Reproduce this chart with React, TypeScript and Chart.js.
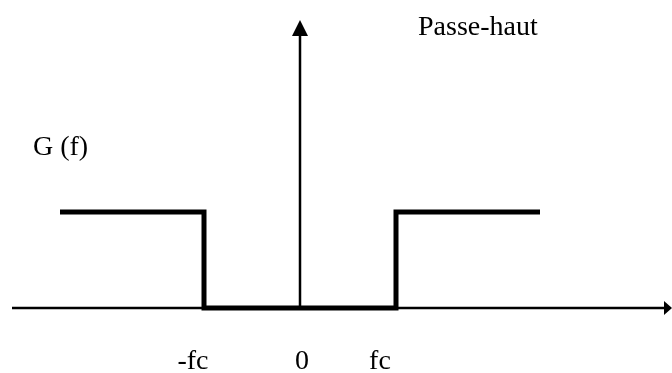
import React, { useEffect, useRef } from "react";
import { Chart, registerables } from "chart.js";

Chart.register(...registerables);

// Ideal high-pass response: gain 1 outside [-fc, fc], 0 inside
const freq = [-240, -96, -96, 96, 96, 240];
const gain = [1, 1, 0, 0, 1, 1];

// Frequency-axis labels and where they sit along the axis
const tickLabels = ["-fc", "0", "fc"];
const tickAnchors = [-107, 2, 80];

const titleText = "Passe-haut";
const yAxisTitle = "G (f)";

const FONT = "28px 'Liberation Serif', 'Times New Roman', serif";

const axesPlugin = {
  id: "filterAxes",
  beforeDatasetsDraw(chart: any) {
    const { ctx, scales } = chart;
    const xs = scales.x;
    const ys = scales.y;
    const y0 = ys.getPixelForValue(0);
    const x0 = xs.getPixelForValue(0);
    const xStart = xs.getPixelForValue(-288);
    const xEnd = xs.getPixelForValue(372);
    const yTop = ys.getPixelForValue(3);

    ctx.save();
    ctx.strokeStyle = "#000";
    ctx.fillStyle = "#000";
    ctx.lineWidth = 2.5;

    // frequency axis
    ctx.beginPath();
    ctx.moveTo(xStart, y0);
    ctx.lineTo(xEnd - 6, y0);
    ctx.stroke();
    ctx.beginPath();
    ctx.moveTo(xEnd, y0);
    ctx.lineTo(xEnd - 8, y0 - 7);
    ctx.lineTo(xEnd - 8, y0 + 7);
    ctx.closePath();
    ctx.fill();

    // gain axis
    ctx.beginPath();
    ctx.moveTo(x0, y0);
    ctx.lineTo(x0, yTop + 12);
    ctx.stroke();
    ctx.beginPath();
    ctx.moveTo(x0, yTop);
    ctx.lineTo(x0 - 8, yTop + 16);
    ctx.lineTo(x0 + 8, yTop + 16);
    ctx.closePath();
    ctx.fill();

    ctx.restore();
  },
  afterDatasetsDraw(chart: any) {
    const { ctx, scales } = chart;
    const xs = scales.x;
    const ys = scales.y;
    ctx.save();
    ctx.fillStyle = "#000";
    ctx.font = FONT;
    ctx.textBaseline = "alphabetic";

    ctx.textAlign = "left";
    ctx.fillText(titleText, xs.getPixelForValue(118), ys.getPixelForValue(2.84));
    ctx.fillText(yAxisTitle, xs.getPixelForValue(-267), ys.getPixelForValue(1.59));

    ctx.textAlign = "center";
    const yLab = ys.getPixelForValue(-0.635);
    tickLabels.forEach((t, i) => {
      ctx.fillText(t, xs.getPixelForValue(tickAnchors[i]), yLab);
    });
    ctx.restore();
  },
};

export default function App() {
  const canvasRef = useRef<HTMLCanvasElement | null>(null);

  useEffect(() => {
    document.body.style.margin = "0";
    const canvas = canvasRef.current;
    if (!canvas) return;
    const chart = new Chart(canvas, {
      type: "line",
      data: {
        datasets: [
          {
            data: freq.map((f, i) => ({ x: f, y: gain[i] })),
            borderColor: "#000",
            borderWidth: 5,
            borderJoinStyle: "miter",
            borderCapStyle: "butt",
            pointRadius: 0,
            tension: 0,
            fill: false,
            clip: false as any,
          },
        ],
      },
      options: {
        animation: false,
        responsive: false,
        devicePixelRatio: 1,
        layout: { padding: 0 },
        plugins: {
          legend: { display: false },
          tooltip: { enabled: false },
        },
        scales: {
          x: { type: "linear", min: -300, max: 372, display: false },
          y: { type: "linear", min: -65 / 96, max: 308 / 96, display: false },
        },
      },
      plugins: [axesPlugin],
    });
    return () => chart.destroy();
  }, []);

  return (
    <div style={{ width: 672, height: 373, background: "#fff" }}>
      <canvas ref={canvasRef} width={672} height={373} />
    </div>
  );
}
